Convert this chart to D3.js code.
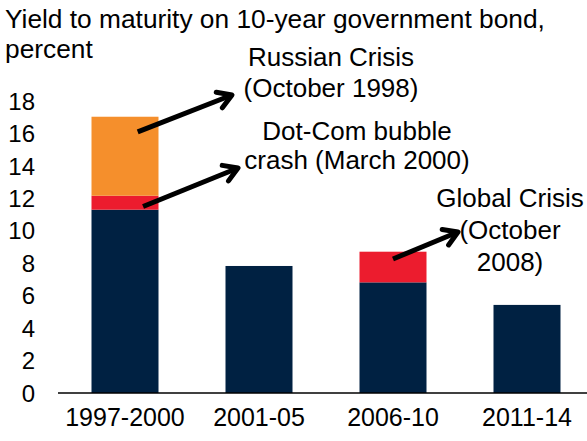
<!DOCTYPE html>
<html>
<head>
<meta charset="utf-8">
<script src="https://cdn.jsdelivr.net/npm/d3@7"></script>
<style>
  body { margin: 0; background: #fff; }
  text { font-family: "Liberation Sans", Arial, sans-serif; fill: #000; }
</style>
</head>
<body>
<svg id="chart" width="587" height="441"></svg>
<script>
// data
var periods = ["1997-2000", "2001-05", "2006-10", "2011-14"];
var baseYield = [11.3, 7.83, 6.82, 5.43];
var crisisAdd = [0.86, 0, 1.89, 0];      // red segment
var russiaAdd = [4.87, 0, 0, 0];        // orange segment
var yTicks = [0, 2, 4, 6, 8, 10, 12, 14, 16, 18];

var titleLines = ["Yield to maturity on 10-year government bond,", "percent"];

// annotations: label lines, which bar, value the arrow starts at
var notes = [
  { lines: ["Russian Crisis", "(October 1998)"], bar: 0, frac: 0.69, val: 16.1, cx: 331, y0: 66, gap: 31, tip: [232, 95] },
  { lines: ["Dot-Com bubble", "crash (March 2000)"], bar: 0, frac: 0.77, val: 11.5, cx: 357, y0: 140, gap: 29, tip: [238, 168] },
  { lines: ["Global Crisis", "(October", "2008)"], bar: 2, frac: 0.5, val: 8.26, cx: 510, y0: 207, gap: 32, tip: [458, 232] }
];

var svg = d3.select("#chart");

var x = d3.scaleBand().domain(periods).range([58, 594]).paddingInner(0.5).paddingOuter(0.25);
var y = d3.scaleLinear().domain([0, 18]).range([393, 101]);

// title
svg.append("g").selectAll("text")
  .data(titleLines).enter().append("text")
  .attr("x", 5)
  .attr("y", function(d, i) { return 28 + i * 30; })
  .style("font-size", "26.3px")
  .text(function(d) { return d; });

// stacked bars
var stacks = periods.map(function(p, i) {
  var a = baseYield[i], b = a + crisisAdd[i], c = b + russiaAdd[i];
  return [
    { p: p, y0: 0, y1: a, color: "#002142" },
    { p: p, y0: a, y1: b, color: "#ec1c2e" },
    { p: p, y0: b, y1: c, color: "#f58f2c" }
  ];
});
var segs = [].concat.apply([], stacks).filter(function(d) { return d.y1 > d.y0; });

svg.append("g").selectAll("rect")
  .data(segs).enter().append("rect")
  .attr("x", function(d) { return x(d.p); })
  .attr("width", x.bandwidth())
  .attr("y", function(d) { return y(d.y1); })
  .attr("height", function(d) { return y(d.y0) - y(d.y1); })
  .attr("fill", function(d) { return d.color; });

// y tick labels
svg.append("g").selectAll("text")
  .data(yTicks).enter().append("text")
  .attr("x", 35)
  .attr("y", function(d) { return y(d); })
  .attr("dy", "0.36em")
  .attr("text-anchor", "end")
  .style("font-size", "24px")
  .text(function(d) { return d; });

// x axis
var xAxis = svg.append("g")
  .attr("transform", "translate(0," + y(0) + ")")
  .call(d3.axisBottom(x).tickSize(0).tickPadding(15));
xAxis.select(".domain").attr("d", "M58,0H587").attr("stroke", "#000").attr("stroke-width", 1.5);
xAxis.selectAll(".tick text")
  .style("font-size", "25px")
  .style("font-family", "Liberation Sans, Arial, sans-serif")
  .attr("fill", "#000");

// annotations
var ann = svg.append("g");
notes.forEach(function(n) {
  n.lines.forEach(function(l, i) {
    ann.append("text")
      .attr("x", n.cx)
      .attr("y", n.y0 + i * n.gap)
      .attr("text-anchor", "middle")
      .style("font-size", "26px")
      .text(l);
  });
  var x0 = x(periods[n.bar]) + x.bandwidth() * n.frac;
  var y0 = y(n.val);
  var tx = n.tip[0], ty = n.tip[1];
  var ang = Math.atan2(ty - y0, tx - x0);
  var L = 16, spread = 0.55;
  ann.append("line")
    .attr("x1", x0).attr("y1", y0).attr("x2", tx).attr("y2", ty)
    .attr("stroke", "#000").attr("stroke-width", 5);
  ann.append("path")
    .attr("d", "M" + (tx - L * Math.cos(ang - spread)) + "," + (ty - L * Math.sin(ang - spread)) +
      "L" + tx + "," + ty +
      "L" + (tx - L * Math.cos(ang + spread)) + "," + (ty - L * Math.sin(ang + spread)))
    .attr("fill", "none").attr("stroke", "#000").attr("stroke-width", 5)
    .attr("stroke-linecap", "round").attr("stroke-linejoin", "round");
});
</script>
</body>
</html>
